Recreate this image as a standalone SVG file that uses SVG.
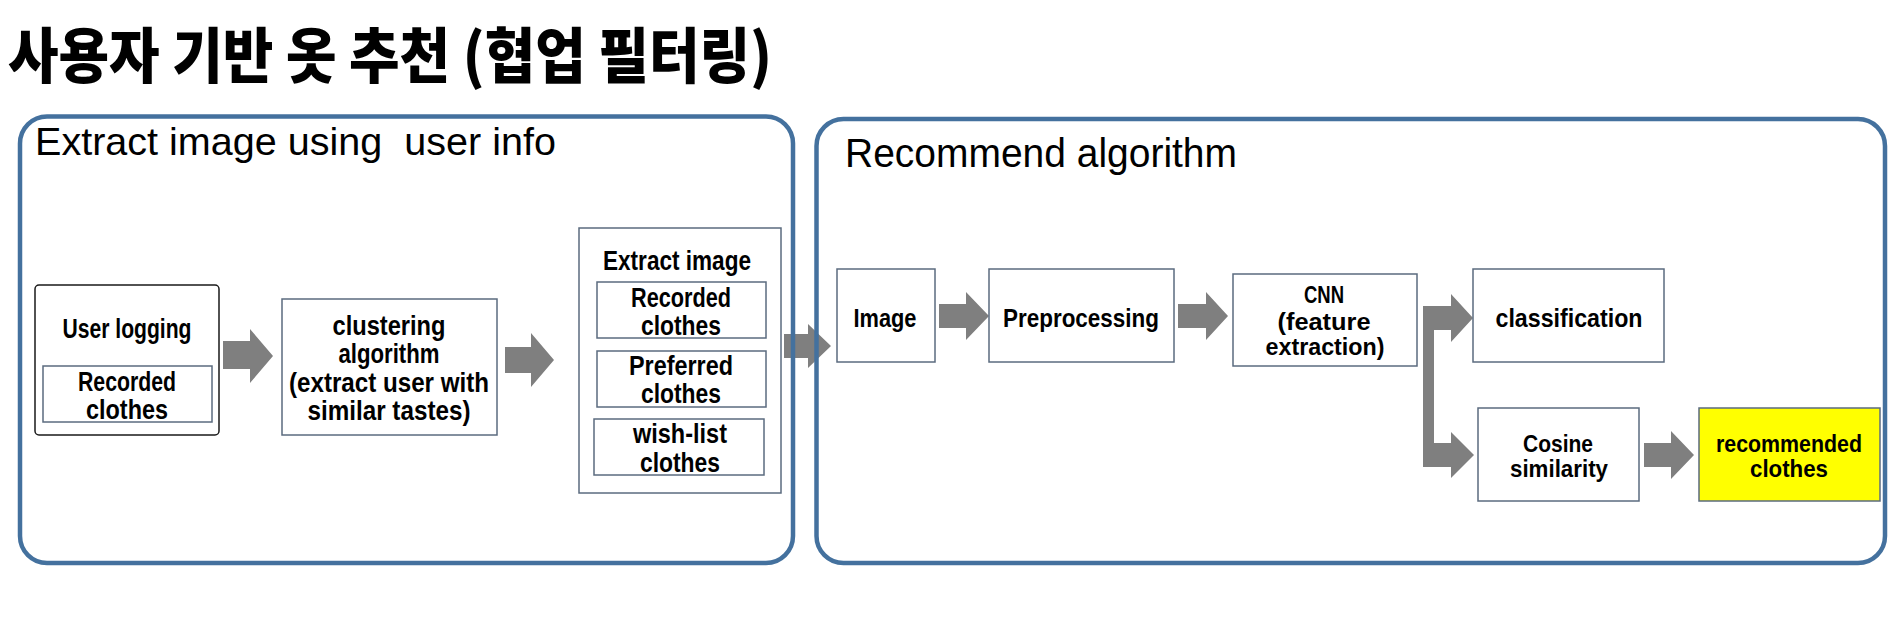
<svg xmlns="http://www.w3.org/2000/svg" width="1896" height="623" viewBox="0 0 1896 623">
<style>
.panel{fill:none;stroke:#44719E;stroke-width:4.5}
.box{fill:#fff;stroke:#5B6B7F;stroke-width:1.5}
.t{font-family:"Liberation Sans",Arial,sans-serif;font-weight:700;font-size:27px;fill:#000;text-anchor:middle}
.s{font-size:24px}
.m{font-size:26px}
.h{font-family:"Liberation Sans",Arial,sans-serif;font-weight:400;fill:#000}
.arr{fill:#7F7F7F}
</style>
<rect width="1896" height="623" fill="#fff"/>
<text x="8" y="78" font-family="'Noto Sans CJK KR','Noto Sans CJK SC',sans-serif" font-weight="900" font-size="60" textLength="764" lengthAdjust="spacingAndGlyphs" fill="#000">사용자 기반 옷 추천 (협업 필터링)</text>

<g id="connectors">
<polygon class="arr" points="223,341 250,341 250,329 273,356 250,383 250,369 223,369"/>
<polygon class="arr" points="505,347 531,347 531,333 554,360 531,387 531,373 505,373"/>
<polygon class="arr" points="784,334 808,334 808,324 831,346 808,368 808,358 784,358"/>
<polygon class="arr" points="939,304 966,304 966,292 989,316 966,340 966,328 939,328"/>
<polygon class="arr" points="1178,304 1206,304 1206,292 1228,316 1206,340 1206,328 1178,328"/>
<polygon class="arr" points="1423,306 1451,306 1451,294 1473,318 1451,342 1451,330 1434,330 1434,443 1451,443 1451,432 1474,455 1451,478 1451,467 1423,467"/>
<polygon class="arr" points="1644,443 1671,443 1671,431 1694,455 1671,479 1671,467 1644,467"/>
</g>

<g id="panel-left">
<rect class="panel" x="20" y="116.5" width="773" height="446.5" rx="27"/>
<text class="h" x="35" y="155" font-size="39" textLength="521" lengthAdjust="spacingAndGlyphs" xml:space="preserve">Extract image using  user info</text>
</g>
<g id="panel-right">
<rect class="panel" x="816.5" y="119" width="1068.5" height="444" rx="27"/>
<text class="h" x="845" y="167" font-size="41" textLength="392" lengthAdjust="spacingAndGlyphs">Recommend algorithm</text>
</g>

<g id="user-logging">
<rect x="35" y="285" width="184" height="150" rx="4" fill="#fff" stroke="#1a1a1a" stroke-width="1.5"/>
<text class="t" x="127" y="338" textLength="129" lengthAdjust="spacingAndGlyphs">User logging</text>
<rect class="box" x="43" y="366" width="169" height="56"/>
<text class="t" x="127" y="391" textLength="98" lengthAdjust="spacingAndGlyphs">Recorded</text>
<text class="t" x="127" y="419" textLength="82" lengthAdjust="spacingAndGlyphs">clothes</text>
</g>

<g id="clustering">
<rect class="box" x="282" y="299" width="215" height="136"/>
<text class="t" x="389" y="335" textLength="113" lengthAdjust="spacingAndGlyphs">clustering</text>
<text class="t" x="389" y="363" textLength="101" lengthAdjust="spacingAndGlyphs">algorithm</text>
<text class="t" x="389" y="392" textLength="200" lengthAdjust="spacingAndGlyphs">(extract user with</text>
<text class="t" x="389" y="420" textLength="163" lengthAdjust="spacingAndGlyphs">similar tastes)</text>
</g>

<g id="extract-image">
<rect class="box" x="579" y="228" width="202" height="265"/>
<text class="t" x="677" y="270" textLength="148" lengthAdjust="spacingAndGlyphs">Extract image</text>
<rect class="box" x="597" y="282" width="169" height="56"/>
<text class="t" x="681" y="307" textLength="100" lengthAdjust="spacingAndGlyphs">Recorded</text>
<text class="t" x="681" y="335" textLength="80" lengthAdjust="spacingAndGlyphs">clothes</text>
<rect class="box" x="597" y="351" width="169" height="56"/>
<text class="t" x="681" y="375" textLength="104" lengthAdjust="spacingAndGlyphs">Preferred</text>
<text class="t" x="681" y="403" textLength="80" lengthAdjust="spacingAndGlyphs">clothes</text>
<rect class="box" x="594" y="419" width="170" height="56"/>
<text class="t" x="680" y="443" textLength="94" lengthAdjust="spacingAndGlyphs">wish-list</text>
<text class="t" x="680" y="472" textLength="80" lengthAdjust="spacingAndGlyphs">clothes</text>
</g>

<g id="image">
<rect class="box" x="837" y="269" width="98" height="93"/>
<text class="t m" x="885" y="327" textLength="63" lengthAdjust="spacingAndGlyphs">Image</text>
</g>
<g id="preprocessing">
<rect class="box" x="989" y="269" width="185" height="93"/>
<text class="t m" x="1081" y="327" textLength="156" lengthAdjust="spacingAndGlyphs">Preprocessing</text>
</g>
<g id="cnn">
<rect class="box" x="1233" y="274" width="184" height="92"/>
<text class="t s" x="1324" y="303" textLength="40" lengthAdjust="spacingAndGlyphs">CNN</text>
<text class="t s" x="1324" y="330" textLength="93" lengthAdjust="spacingAndGlyphs">(feature</text>
<text class="t s" x="1325" y="355" textLength="119" lengthAdjust="spacingAndGlyphs">extraction)</text>
</g>
<g id="classification">
<rect class="box" x="1473" y="269" width="191" height="93"/>
<text class="t m" x="1569" y="327" textLength="147" lengthAdjust="spacingAndGlyphs">classification</text>
</g>
<g id="cosine">
<rect class="box" x="1478" y="408" width="161" height="93"/>
<text class="t s" x="1558" y="452" textLength="70" lengthAdjust="spacingAndGlyphs">Cosine</text>
<text class="t s" x="1559" y="477" textLength="98" lengthAdjust="spacingAndGlyphs">similarity</text>
</g>
<g id="recommended">
<rect class="box" x="1699" y="408" width="181" height="93" style="fill:#FFFF00"/>
<text class="t s" x="1789" y="452" textLength="146" lengthAdjust="spacingAndGlyphs">recommended</text>
<text class="t s" x="1789" y="477" textLength="78" lengthAdjust="spacingAndGlyphs">clothes</text>
</g>
</svg>
